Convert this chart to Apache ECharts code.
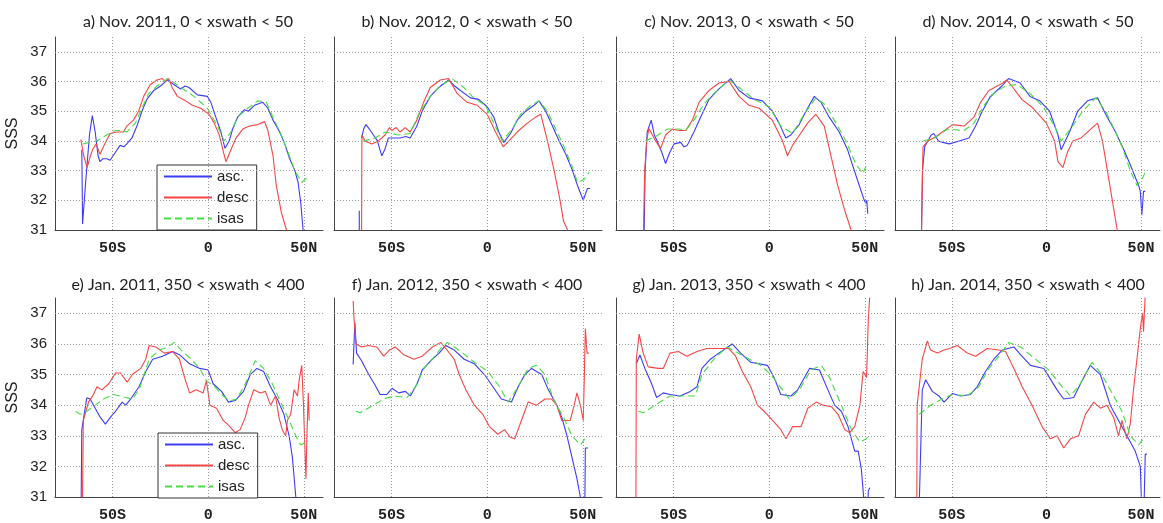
<!DOCTYPE html>
<html><head><meta charset="utf-8">
<script src="https://cdn.jsdelivr.net/npm/echarts@6/dist/echarts.min.js"></script>
<style>html,body{margin:0;padding:0;background:#fff}#c{width:1163px;height:523px}</style>
</head><body><div id="c"></div>
<script>
// ---------- data ----------
const titles = [
  'a) Nov. 2011, 0 < xswath < 50', 'b) Nov. 2012, 0 < xswath < 50',
  'c) Nov. 2013, 0 < xswath < 50', 'd) Nov. 2014, 0 < xswath < 50',
  'e) Jan. 2011, 350 < xswath < 400', 'f) Jan. 2012, 350 < xswath < 400',
  'g) Jan. 2013, 350 < xswath < 400', 'h) Jan. 2014, 350 < xswath < 400'
];
const seriesNames = ['asc.', 'desc', 'isas'];
const xTicks = [-50, 0, 50];
const xTickLabels = ['50S', '0', '50N'];
const yTicks = [31, 32, 33, 34, 35, 36, 37];

const a_asc = [[-66,33.7],[-65.6,31.2],[-64,32.6],[-62,34.2],[-60.5,34.85],[-59,34.3],[-57.5,33.5],[-56.5,33.3],[-55,33.4],[-53,33.4],[-51.2,33.35],[-48.6,33.6],[-46,33.85],[-44,33.8],[-42.5,33.9],[-39.8,34.1],[-37.2,34.5],[-34.6,35.0],[-32,35.4],[-28.4,35.7],[-24.9,35.85],[-21.4,36.05],[-17.9,35.9],[-14.4,35.75],[-12,35.85],[-10,35.8],[-5.6,35.55],[-0.4,35.5],[1.4,35.3],[4,34.8],[6.7,34.3],[8.8,33.75],[11,34.0],[12.8,34.4],[15.4,34.8],[19,35.05],[21,35.0],[24.2,35.2],[28.6,35.3],[31.2,35.1],[33.9,34.7],[37.4,34.3],[40,33.9],[42.6,33.4],[45.3,33.0],[47,32.6],[48.4,31.9],[49.6,31.0],[50,30.5]];
const a_desc = [[-66.5,34.05],[-65,33.5],[-63.2,33.1],[-61.5,33.5],[-60.4,33.7],[-58.5,33.9],[-56.5,33.55],[-54,33.9],[-51.2,34.25],[-47.7,34.3],[-44.2,34.3],[-42.5,34.5],[-39,34.7],[-36.3,35.0],[-33.7,35.5],[-30.2,35.9],[-26.7,36.05],[-24,36.1],[-22.3,36.0],[-20.5,36.1],[-18.8,35.8],[-16.1,35.5],[-11.8,35.35],[-8.2,35.2],[-3.9,35.1],[0.5,34.9],[3.2,34.6],[5.8,34.2],[8.1,33.6],[9.3,33.3],[11.9,33.7],[14.6,34.1],[18.1,34.4],[21.6,34.5],[26,34.55],[29.5,34.65],[31.2,34.35],[33.9,33.5],[35.6,32.5],[38.2,31.6],[40.9,31.0],[41.5,30.5]];
const a_isas = [[-65.3,33.9],[-62,33.95],[-58.2,34.0],[-53,34.2],[-48.6,34.35],[-45,34.35],[-42.5,34.3],[-38,34.6],[-34.6,35.1],[-31,35.6],[-26.7,35.85],[-21.4,36.1],[-17.5,35.95],[-14.4,35.8],[-7.4,35.5],[-0.4,35.1],[4.9,34.5],[8.4,34.0],[11.9,34.3],[15.4,34.8],[20.7,35.1],[26,35.35],[30.4,35.3],[33.9,34.8],[38.2,34.2],[41.8,33.6],[45.3,33.0],[48.8,32.6],[51.4,32.75]];

const b_asc = [[-66.8,30.5],[-66.8,31.65],[-66.2,null],[-65.6,34.1],[-64.5,34.4],[-63.3,34.55],[-61.5,34.4],[-59.4,34.2],[-57.3,34.0],[-56,33.7],[-55,33.5],[-53.5,33.7],[-51.6,34.1],[-48,34.1],[-45.5,34.1],[-42.5,34.15],[-40.2,34.1],[-36.7,34.5],[-34,35.0],[-29.7,35.5],[-25.3,35.8],[-20.1,36.05],[-17,35.85],[-14,35.7],[-8.7,35.45],[-4.4,35.4],[0,35.15],[3.5,34.8],[6.1,34.3],[8.7,33.95],[12.2,34.25],[15.7,34.7],[20.1,35.0],[24.5,35.2],[27.1,35.35],[30.6,35.0],[34.1,34.5],[37.6,34.0],[41.1,33.55],[44.6,33.0],[47.2,32.5],[50.2,32.0],[52.4,32.4],[53.8,32.4]];
const b_desc = [[-65.6,30.5],[-65.5,33.0],[-65.4,34.2],[-63.8,34.0],[-60.3,33.9],[-56.8,34.0],[-53.3,34.2],[-51,34.45],[-49.8,34.35],[-47.5,34.45],[-45.5,34.3],[-42.8,34.45],[-40.2,34.3],[-36.7,34.7],[-33.2,35.3],[-29.7,35.8],[-24.5,36.05],[-20.1,36.1],[-15.7,35.6],[-10.5,35.3],[-5.2,35.2],[0,34.9],[4.4,34.3],[8.4,33.8],[11.4,34.0],[15.7,34.3],[21,34.6],[25.3,34.8],[28,34.9],[31.5,34.0],[35,33.0],[38.1,32.0],[39.9,31.3],[42,31.0],[42.5,30.5]];
const b_isas = [[-65,34.0],[-61,34.05],[-58.6,34.1],[-53.3,34.3],[-46.3,34.2],[-40.2,34.25],[-35.8,34.9],[-29.7,35.5],[-24.5,35.85],[-18.4,36.1],[-12.2,35.8],[-7,35.45],[-0.9,35.2],[3.5,34.6],[7.9,34.0],[13.1,34.4],[17.5,34.9],[22.7,35.2],[27.1,35.35],[31.5,35.0],[35.8,34.4],[40.2,33.8],[44.6,33.1],[47.2,32.6],[50.7,32.7],[53.3,32.95]];

const c_asc = [[-65.4,30.5],[-64.8,33.0],[-63.7,34.3],[-61.6,34.7],[-60,34.2],[-58.5,34.0],[-56,33.6],[-54.1,33.24],[-52,33.6],[-49.7,33.9],[-46.2,33.95],[-44.5,33.8],[-42.8,33.85],[-39.3,34.3],[-35.8,34.8],[-31.4,35.4],[-26.2,35.75],[-20.1,36.1],[-15.7,35.7],[-10.5,35.45],[-3.5,35.35],[1.7,35.0],[5.2,34.6],[8.7,34.1],[11.3,34.2],[15.7,34.55],[19.2,35.0],[23.6,35.5],[27.1,35.3],[31.4,34.8],[36.6,34.3],[41,33.7],[44.5,33.0],[47.1,32.5],[49.7,32.0],[50.5,31.9],[51,32.0],[51.5,31.55]];
const c_desc = [[-65.8,30.5],[-65,33.0],[-64,34.0],[-62.8,34.42],[-59.3,34.0],[-56.7,33.75],[-54.1,34.2],[-50.6,34.4],[-47,34.35],[-43.6,34.35],[-40.1,34.7],[-36.6,35.3],[-31.4,35.7],[-26.2,35.95],[-20.9,36.0],[-15.7,35.5],[-10.5,35.2],[-5.2,35.1],[1.7,34.7],[7,34.0],[9.6,33.5],[12.2,33.85],[14.8,34.1],[20.1,34.6],[24.4,34.9],[28.8,34.5],[32.3,33.5],[35.8,32.5],[39.3,31.7],[42.8,31.0],[43.5,30.5]];
const c_isas = [[-64.6,34.0],[-59.3,34.15],[-53.2,34.4],[-47,34.4],[-43.6,34.35],[-39.3,34.7],[-34,35.25],[-28.8,35.6],[-20.9,36.05],[-15.7,35.8],[-7.9,35.4],[0,35.15],[6.1,34.5],[12.2,34.25],[18.3,34.9],[24.4,35.45],[29.7,35.2],[34.9,34.6],[40.1,34.0],[45.4,33.2],[48.9,32.9],[50.6,33.15]];

const d_asc = [[-66.1,30.5],[-65.5,33.0],[-64.3,33.8],[-60.9,34.2],[-59.5,34.25],[-57,34.0],[-54.8,33.95],[-51.3,33.9],[-46.1,34.0],[-40.9,34.1],[-37.4,34.5],[-33.9,35.0],[-29.6,35.5],[-23.5,35.85],[-20,36.1],[-13.9,35.95],[-8.7,35.5],[-3.5,35.35],[1.7,35.0],[6.1,34.2],[7.8,33.7],[12.2,34.3],[16.5,35.0],[21.7,35.35],[27,35.45],[31.3,34.9],[36.5,34.3],[40.9,33.7],[44.3,33.2],[48.7,32.5],[49.6,32.3],[50.4,31.5],[51.3,32.3],[52.2,32.3]];
const d_desc = [[-66.1,30.5],[-65.2,33.8],[-62.6,34.0],[-58.3,34.15],[-53.9,34.35],[-49.6,34.55],[-43.5,34.5],[-38.3,34.8],[-34.8,35.3],[-30.4,35.7],[-23,35.95],[-21,36.05],[-18.3,35.85],[-13,35.4],[-7,35.1],[0,34.6],[4.3,34.0],[6.1,33.3],[8.7,33.1],[11,33.6],[13.9,34.0],[18.3,34.1],[24.3,34.45],[27,34.6],[29.6,34.0],[32.2,33.0],[34.8,32.0],[37.4,31.0],[38,30.5]];
const d_isas = [[-65.2,34.0],[-59.1,34.1],[-52.2,34.4],[-43.5,34.35],[-38.3,34.6],[-33,35.2],[-27.8,35.6],[-21.7,35.85],[-15.7,35.9],[-8.7,35.6],[-1.7,35.15],[4.3,34.5],[7.8,34.0],[13.9,34.5],[19.1,35.0],[26.1,35.45],[31.3,35.0],[35.7,34.4],[40,33.8],[44.3,33.0],[47.8,32.5],[50.4,32.7],[52.2,32.95]];

const e_asc = [[-66.4,30.5],[-66,33.2],[-63.4,34.24],[-61.6,34.2],[-59,33.9],[-56.3,33.6],[-53.7,33.38],[-51.1,33.6],[-48.4,33.8],[-44.9,34.1],[-43.1,34.0],[-40.5,34.2],[-36.1,34.6],[-32.6,35.1],[-29,35.5],[-23.8,35.6],[-18.5,35.75],[-15,35.65],[-9.7,35.35],[-4.4,35.2],[0,35.15],[2.6,34.7],[7,34.45],[10.6,34.1],[14.1,34.15],[18.5,34.45],[22,35.0],[25.5,35.2],[29,35.1],[32.6,34.6],[36.1,34.2],[39.6,33.7],[42.3,33.0],[44,32.3],[45.8,31.0],[46.2,30.5]];
const e_desc = [[-65.7,30.5],[-65.2,33.5],[-62.5,34.1],[-59.9,34.35],[-58.1,34.6],[-55.5,34.5],[-51.9,34.7],[-48.4,35.05],[-45.8,35.05],[-42.3,34.75],[-39.6,35.0],[-35.2,35.2],[-32.6,35.5],[-30.8,35.95],[-27.3,35.9],[-22.9,35.7],[-18.5,35.75],[-15,35.5],[-12.3,34.9],[-9.7,34.4],[-6.2,34.5],[-2.6,34.4],[-0.9,34.8],[0.9,34.0],[4.4,33.9],[7.9,33.5],[11.4,33.3],[14.1,33.1],[16.7,33.2],[19.4,33.6],[21.1,34.0],[23.8,34.5],[27.3,34.4],[29.9,34.45],[32.6,34.0],[35.2,34.3],[37,33.6],[38.7,33.2],[40.5,33.0],[41.4,33.5],[43.1,33.7],[44.9,34.5],[46.7,34.3],[47.5,34.8],[48.9,35.3],[49.8,34.0],[51.1,31.6],[51.6,33.0],[52.3,34.4],[52.8,33.5]];
const e_isas = [[-69.2,33.8],[-66.9,33.7],[-63.4,33.8],[-59,34.0],[-54.6,34.2],[-49.3,34.35],[-43.1,34.25],[-39.6,34.2],[-36.1,34.5],[-33.5,35.0],[-30.8,35.5],[-25.5,35.8],[-21.1,35.9],[-17.6,36.05],[-14.1,35.8],[-8.8,35.5],[-4.4,35.2],[-0.9,34.8],[3.5,34.6],[7.9,34.3],[11.4,34.15],[15,34.2],[19.4,34.7],[22.9,35.2],[24.6,35.45],[29,35.2],[33.5,34.7],[37.9,34.1],[42.3,33.5],[45.8,33.0],[48.4,32.7],[51.1,32.8]];

const f_asc = [[-70,35.33],[-69.1,36.7],[-68.2,35.7],[-65.6,35.45],[-62,35.02],[-58.5,34.65],[-55.9,34.35],[-52.4,34.35],[-49.7,34.55],[-46.2,34.4],[-42.7,34.45],[-40.1,34.3],[-36.6,34.7],[-33.9,35.15],[-29.5,35.45],[-25.1,35.7],[-21.6,35.95],[-17.2,35.8],[-12,35.5],[-6.7,35.35],[-1.4,35.0],[3,34.6],[7.4,34.2],[12.7,34.1],[16.2,34.6],[19.7,35.0],[23.2,35.2],[28.5,35.0],[32,34.5],[36.4,34.0],[39,33.6],[41.7,33.0],[44.3,32.3],[46.9,31.6],[48.7,31.0],[49.2,30.5],[51,30.5],[51.3,32.6],[52.7,32.6]];
const f_desc = [[-70,37.4],[-69.5,36.8],[-68.5,36.0],[-65.6,35.9],[-62,35.95],[-57.6,35.9],[-54.1,35.6],[-51,35.8],[-48,35.9],[-43.6,35.65],[-38.3,35.5],[-33.9,35.6],[-28.6,35.9],[-24.3,36.05],[-21.6,35.85],[-17.2,35.5],[-14.6,35.0],[-11.1,34.5],[-6.7,34.0],[-2.3,33.7],[1.2,33.3],[5.6,33.05],[9.1,33.2],[12,32.95],[14.4,32.9],[17.9,33.5],[21.4,34.1],[25.8,34.0],[30.2,34.2],[33.7,34.2],[36.4,34.0],[39,33.5],[43.4,33.5],[45.5,34.0],[46.9,34.4],[48.7,34.0],[50.2,33.5],[50.8,35.0],[51.3,36.5],[52.2,35.7],[53.1,35.7]];
const f_isas = [[-68.5,33.8],[-66.4,33.75],[-59.4,34.0],[-54.1,34.2],[-48.9,34.3],[-41.8,34.25],[-37.4,34.6],[-33,35.2],[-28.6,35.5],[-24.3,35.85],[-20.7,36.05],[-13.7,35.75],[-6.7,35.4],[0.4,35.1],[6.5,34.6],[10.9,34.1],[16.2,34.6],[21.4,35.2],[25.8,35.3],[30.2,35.0],[34.6,34.2],[39.9,33.6],[44.3,33.0],[48.7,32.7],[52.2,33.0]];

const g_asc = [[-69.3,35.37],[-67.5,35.64],[-64.9,35.2],[-61.4,34.7],[-58.8,34.25],[-55.3,34.4],[-51.8,34.35],[-46.5,34.3],[-41.2,34.45],[-37.7,34.6],[-35.1,35.2],[-30.7,35.5],[-26.3,35.7],[-19.3,36.0],[-14.9,35.7],[-9.6,35.4],[-0.9,35.3],[2.6,34.9],[6.1,34.35],[11.4,34.3],[14.9,34.5],[21.1,35.2],[26.3,35.15],[30.7,34.5],[34.2,34.0],[37.7,33.8],[41.2,33.3],[44.7,32.5],[46.5,32.5],[48.2,31.9],[50,30.5],[51.5,30.5],[51.8,31.2],[52.6,31.3]];
const g_desc = [[-69.6,30.5],[-69.4,35.5],[-67.9,36.32],[-65.8,35.7],[-63.2,35.25],[-57.9,35.2],[-55.3,35.2],[-51.8,35.7],[-47.4,35.75],[-43,35.6],[-37.7,35.75],[-32.5,35.85],[-25.4,35.85],[-21.1,35.85],[-17.5,35.6],[-14,35.1],[-9.6,34.6],[-6.1,34.0],[-2.6,33.8],[1.8,33.5],[6.1,33.2],[8.8,32.9],[12.3,33.3],[16.7,33.3],[20.2,33.9],[24.6,34.1],[28.1,34.0],[32.5,33.95],[36,33.7],[39.5,33.2],[42.1,33.1],[44.7,33.3],[47.4,34.0],[49.1,35.1],[50.9,34.9],[51.8,36.8],[52.6,37.6]];
const g_isas = [[-68.4,33.8],[-65.8,33.75],[-59.6,34.0],[-51.8,34.3],[-44.7,34.3],[-38.6,34.3],[-35.1,35.0],[-28.9,35.5],[-21.9,35.9],[-13.2,35.6],[-4.4,35.3],[0.9,35.0],[7,34.5],[10.5,34.2],[15.8,34.5],[21.9,35.15],[27.2,35.3],[31.6,34.9],[37.7,34.0],[43,33.2],[47.4,32.8],[50.9,32.9],[52.6,33.1]];

const h_asc = [[-67.3,30.5],[-65.6,34.5],[-63.8,34.83],[-60.3,34.45],[-56.8,34.3],[-54.1,34.1],[-49.7,34.38],[-45.3,34.3],[-40.1,34.35],[-36.6,34.6],[-32.2,35.1],[-27.8,35.5],[-23.4,35.8],[-17.2,35.9],[-13.7,35.65],[-8.4,35.3],[-1.4,35.2],[2.1,34.85],[5.6,34.5],[9.1,34.2],[14.4,34.25],[18.8,34.8],[23.2,35.3],[28.5,35.0],[33.7,34.0],[38.1,33.5],[42.5,33.0],[46.9,32.5],[49.6,32.0],[50.4,30.5],[51.5,30.5],[52.2,32.4],[53.1,32.4]];
const h_desc = [[-68.5,30.5],[-68.3,34.0],[-65.6,35.5],[-62.9,36.1],[-61.2,35.8],[-57.6,35.7],[-54.1,35.8],[-51,35.85],[-47.1,35.95],[-41.8,35.7],[-37.4,35.6],[-31.3,35.85],[-25.1,35.8],[-21.6,35.75],[-17.2,35.2],[-12.8,34.6],[-7.6,34.0],[-2.3,33.3],[2.1,32.9],[5.6,33.0],[9.1,32.6],[12.7,32.9],[17,33.0],[20.6,33.7],[25,34.1],[28.5,33.9],[32,34.0],[35.5,33.6],[38.1,33.0],[39.9,33.5],[42.5,32.9],[44.3,33.4],[46,34.5],[47.8,35.5],[49.6,36.5],[50.8,37.0],[51.3,36.4],[52.2,37.6]];
const h_isas = [[-67.3,33.7],[-61.2,34.0],[-55,34.2],[-49.7,34.35],[-41.8,34.3],[-35.7,34.6],[-30.4,35.2],[-25.1,35.6],[-19.9,36.05],[-13.7,35.9],[-6.7,35.55],[1.2,35.15],[8.3,34.6],[12.7,34.3],[17.9,34.7],[24.1,35.4],[29.3,35.0],[35.5,34.3],[39.9,33.8],[44.3,33.0],[48.7,32.7],[52.2,33.0]];

const panels = [
  [a_asc, a_desc, a_isas], [b_asc, b_desc, b_isas], [c_asc, c_desc, c_isas], [d_asc, d_desc, d_isas],
  [e_asc, e_desc, e_isas], [f_asc, f_desc, f_isas], [g_asc, g_desc, g_isas], [h_asc, h_desc, h_isas]
];

// ---------- layout & style ----------
const colLeft = [55, 334, 616, 895];
const rowTop = [37, 298];
const rowHeight = [193, 200];
const plotWidth = 268;
const colors = ['#3c3cf6', '#f54545', '#45dd45'];
const gridColor = '#9a9a9a';

const option = {
  animation: false,
  backgroundColor: '#fff',
  title: [], grid: [], xAxis: [], yAxis: [], series: [],
  legend: []
};

panels.forEach((pd, i) => {
  const row = Math.floor(i / 4), col = i % 4;
  const left = colLeft[col], top = rowTop[row], h = rowHeight[row];
  option.grid.push({ left: left, top: top, width: plotWidth, height: h });
  option.title.push({
    text: titles[i], left: left + plotWidth / 2 - 6, top: row === 0 ? 9 : 272,
    textAlign: 'center',
    textStyle: { fontFamily: 'Lato', fontSize: 16, fontWeight: 'normal', color: '#222' }
  });
  option.xAxis.push({
    gridIndex: i, type: 'value', min: -80, max: 60, interval: 10,
    splitLine: { show: false },
    axisLine: { onZero: false, lineStyle: { color: '#444', width: 1 } },
    axisTick: { show: false },
    axisLabel: {
      margin: 11,
      fontFamily: 'Liberation Mono', fontWeight: 'bold', fontSize: 15, color: '#222',
      formatter: v => { const k = xTicks.indexOf(v); return k >= 0 ? xTickLabels[k] : ''; }
    }
  });
  option.yAxis.push({
    gridIndex: i, type: 'value', min: 31, max: 37.5, interval: 1,
    splitLine: { show: false },
    axisLine: { show: true, onZero: false, lineStyle: { color: '#444', width: 1 } },
    axisTick: { show: false },
    axisLabel: {
      show: col === 0, showMaxLabel: false, margin: 8,
      fontFamily: 'Liberation Sans', fontSize: 15, color: '#222',
      formatter: v => (yTicks.indexOf(v) >= 0 ? String(v) : '')
    },
    name: col === 0 ? 'SSS' : '',
    nameLocation: 'middle', nameGap: 34, nameRotate: 90,
    nameTextStyle: { fontFamily: 'Liberation Sans', fontSize: 16, color: '#222' }
  });
  // dotted grid lines from the tick arrays
  option.series.push({
    type: 'line', xAxisIndex: i, yAxisIndex: i, data: [], z: 1, silent: true,
    markLine: {
      silent: true, symbol: ['none', 'none'], animation: false,
      label: { show: false },
      lineStyle: { color: gridColor, width: 1, type: [1, 2] },
      emphasis: { disabled: true },
      data: xTicks.map(v => ({ xAxis: v })).concat(yTicks.slice(1).map(v => ({ yAxis: v })))
    }
  });
  pd.forEach((d, s) => {
    option.series.push({
      name: seriesNames[s], type: 'line', xAxisIndex: i, yAxisIndex: i,
      data: d, showSymbol: false, symbol: 'none', z: 2 + s,
      connectNulls: false, clip: true,
      lineStyle: { color: colors[s], width: 1.1, type: s === 2 ? [7, 4] : 'solid' },
      itemStyle: { color: colors[s] },
      emphasis: { disabled: true }
    });
  });
});

const legendBase = {
  data: seriesNames, orient: 'vertical', itemWidth: 48, itemHeight: 12, itemGap: 6,
  padding: [4, 8, 4, 6], borderColor: '#333', borderWidth: 1, backgroundColor: '#fff',
  selectedMode: false,
  itemStyle: { opacity: 0 },
  textStyle: { fontFamily: 'Liberation Sans', fontSize: 15, color: '#222' }
};
option.legend.push(Object.assign({}, legendBase, { left: 157, top: 165 }));
option.legend.push(Object.assign({}, legendBase, { left: 158, top: 433 }));

const chart = echarts.init(document.getElementById('c'), null, { renderer: 'canvas' });
chart.setOption(option);
</script>
</body></html>
